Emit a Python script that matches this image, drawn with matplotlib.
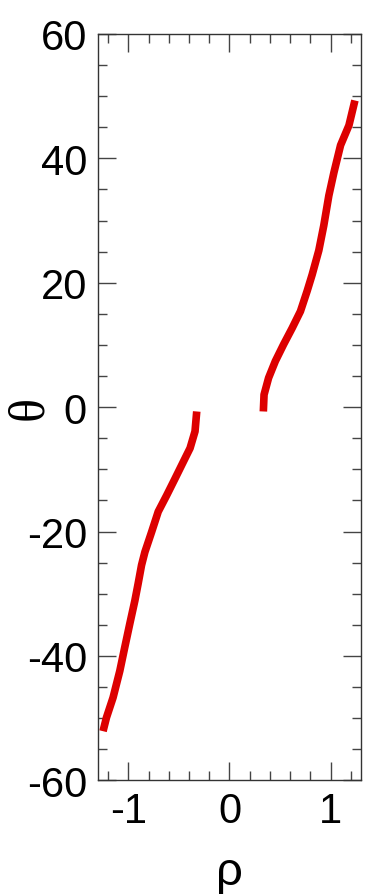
import matplotlib
matplotlib.use("Agg")
import matplotlib.pyplot as plt
from matplotlib.ticker import MultipleLocator

plt.rcParams['font.family'] = ['Liberation Sans', 'DejaVu Sans']
plt.rcParams['axes.unicode_minus'] = False

# branch for rho < 0
rho_neg = [-1.251, -1.217, -1.152, -1.085, -1.036, -0.986, -0.936, -0.904,
           -0.870, -0.837, -0.771, -0.705, -0.622, -0.539, -0.457, -0.390,
           -0.341, -0.324]
theta_neg = [-52.1, -49.9, -46.7, -42.4, -38.6, -34.8, -31.1, -28.4,
             -25.4, -23.3, -20.1, -16.8, -14.2, -11.5, -8.8, -6.6,
             -3.9, -0.7]

# branch for rho > 0
rho_pos = [0.335, 0.342, 0.387, 0.454, 0.536, 0.620, 0.702, 0.769, 0.818,
           0.884, 0.933, 0.983, 1.033, 1.099, 1.182, 1.241]
theta_pos = [-0.7, 2.0, 4.7, 7.4, 10.1, 12.7, 15.4, 18.7, 21.3,
             25.2, 29.2, 34.0, 37.7, 42.1, 45.3, 49.3]

fig = plt.figure(figsize=(3.66, 8.95), dpi=100)
ax = fig.add_axes([0.268, 0.127, 0.718, 0.834])

red = '#dd0000'
ax.plot(rho_neg, theta_neg, color=red, lw=5.5, solid_capstyle='butt',
        solid_joinstyle='round')
ax.plot(rho_pos, theta_pos, color=red, lw=5.5, solid_capstyle='butt',
        solid_joinstyle='round')

ax.set_xlim(-1.3, 1.3)
ax.set_ylim(-60, 60)
ax.xaxis.set_major_locator(MultipleLocator(1))
ax.xaxis.set_minor_locator(MultipleLocator(0.2))
ax.yaxis.set_major_locator(MultipleLocator(20))
ax.yaxis.set_minor_locator(MultipleLocator(5))

ax.tick_params(which='both', direction='in', top=True, right=True,
               color='#444444', width=1)
ax.tick_params(which='major', length=13, labelsize=30, pad=8)
ax.tick_params(which='minor', length=6.5)
for s in ax.spines.values():
    s.set_color('#333333')
    s.set_linewidth(1)

# axis titles
fig.text(30 / 366, 1 - 408 / 895, 'θ', fontsize=36, rotation=90,
         ha='center', va='center', family=['Liberation Serif', 'DejaVu Serif'])
fig.text(229 / 366, 1 - 873 / 895, 'ρ', fontsize=34,
         ha='center', va='center')

fig.savefig('out.png', dpi=100)
